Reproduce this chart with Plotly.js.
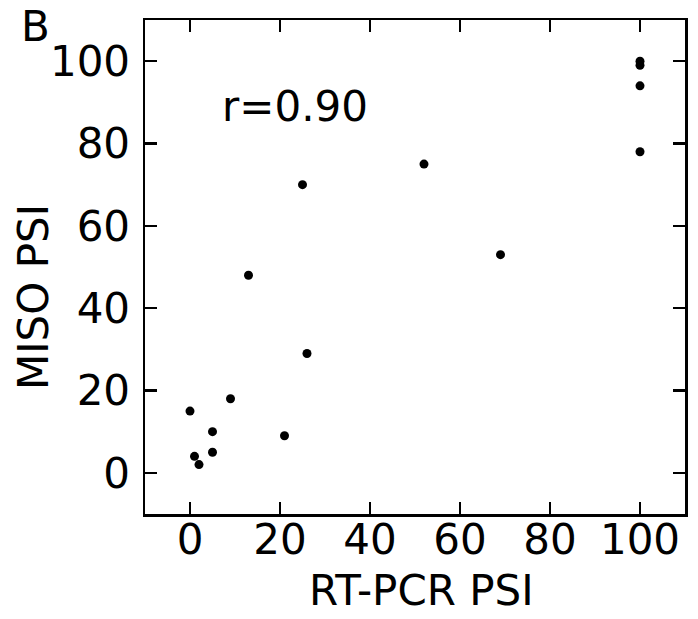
<!DOCTYPE html>
<html>
<head>
<meta charset="utf-8">
<script src="https://cdn.plot.ly/plotly-3.0.1.min.js"></script>
<style>html,body{margin:0;padding:0;background:#fff;}#chart{width:698px;height:619px;}</style>
</head>
<body>
<div id="chart"></div>
<script>
const rtpcrPSI = [0, 1, 2, 5, 5, 9, 13, 21, 25, 26, 52, 69, 100, 100, 100, 100];
const misoPSI  = [15, 4, 2, 10, 5, 18, 48, 9, 70, 29, 75, 53, 100, 99, 94, 78];
const tickVals = [0, 20, 40, 60, 80, 100];
const tickText = ["0", "20", "40", "60", "80", "100"];
const corrLabel = "r=0.90";
const panelLabel = "B";
const xLabel = "RT-PCR PSI";
const yLabel = "MISO PSI";

const FONT = "DejaVu Sans, sans-serif";
const FS = 42;
const M = {l: 145, r: 13, t: 20, b: 105};
const W = 698, H = 619;
const plotW = W - M.l - M.r, plotH = H - M.t - M.b;
const px2paperX = p => (p - M.l) / plotW;
const px2paperY = p => 1 - (p - M.t) / plotH;

const axisCommon = {
  range: [-10, 110],
  tickmode: "array",
  tickvals: tickVals,
  ticktext: tickText,
  ticks: "inside",
  ticklen: 12,
  tickwidth: 2.5,
  tickcolor: "#000",
  mirror: "ticks",
  showline: true,
  linecolor: "#000",
  linewidth: 2.5,
  showgrid: false,
  zeroline: false,
  tickfont: {family: FONT, size: FS, color: "#000"},
  fixedrange: true
};

const trace = {
  x: rtpcrPSI,
  y: misoPSI,
  type: "scatter",
  mode: "markers",
  marker: {color: "#000", size: 9, line: {width: 0}},
  hoverinfo: "skip"
};

const txtFont = {family: FONT, size: FS, color: "#000"};
const layout = {
  width: W,
  height: H,
  margin: M,
  paper_bgcolor: "#fff",
  plot_bgcolor: "#fff",
  showlegend: false,
  font: {family: FONT, color: "#000"},
  xaxis: Object.assign({}, axisCommon, {ticklabelstandoff: -13}),
  yaxis: Object.assign({}, axisCommon, {ticklabelstandoff: 4}),
  annotations: [
    {x: 6.6, y: 89, xref: "x", yref: "y", text: corrLabel, showarrow: false,
     xanchor: "left", yanchor: "middle", font: txtFont},
    {x: px2paperX(36), y: px2paperY(26), xref: "paper", yref: "paper", text: panelLabel, showarrow: false,
     xanchor: "center", yanchor: "middle", font: txtFont},
    {x: px2paperX(421), y: px2paperY(590), xref: "paper", yref: "paper", text: xLabel, showarrow: false,
     xanchor: "center", yanchor: "middle", font: txtFont},
    {x: px2paperX(33), y: px2paperY(297), xref: "paper", yref: "paper", text: yLabel, showarrow: false,
     textangle: -90, xanchor: "center", yanchor: "middle", font: txtFont}
  ]
};

Plotly.newPlot("chart", [trace], layout, {displayModeBar: false, staticPlot: true});
</script>
</body>
</html>
